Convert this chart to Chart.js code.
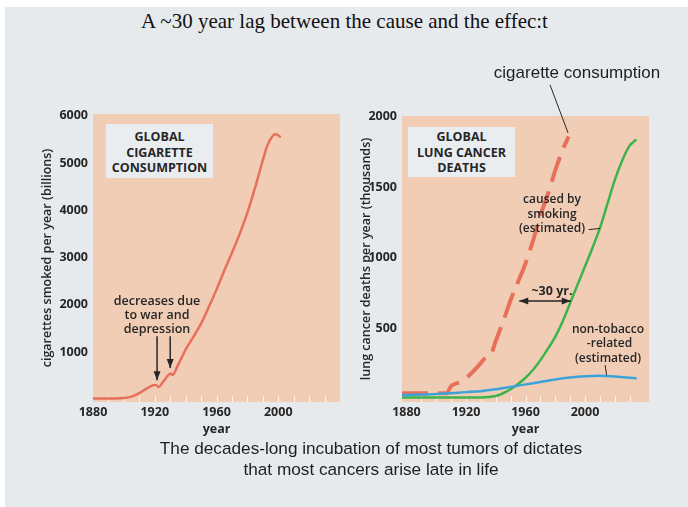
<!DOCTYPE html>
<html>
<head>
<meta charset="utf-8">
<script src="https://cdn.jsdelivr.net/npm/chart.js@4.4.1/dist/chart.umd.min.js"></script>
<style>
  html, body { margin: 0; padding: 0; background: #fff; }
  #page { position: relative; width: 688px; height: 507px; overflow: hidden; }
  #panel { position: absolute; left: 5px; top: 7px; right: 0; bottom: 0; background: #e7eaed; }
  canvas { position: absolute; }
  .t { position: absolute; white-space: nowrap; text-align: center; color: #262626;
       font-family: "Open Sans", sans-serif; font-weight: 600; font-size: 12px; }
  .box { position: absolute; background: #eaedf0; text-align: center; color: #262626;
         font-family: "Open Sans", sans-serif; font-weight: 700; font-size: 12.5px; line-height: 15.5px; }
</style>
</head>
<body>
<div id="page">
  <div id="panel"></div>
  <canvas id="leftChart" width="345" height="400" style="left:0;top:50px"></canvas>
  <canvas id="rightChart" width="343" height="400" style="left:345px;top:50px"></canvas>

  <div class="t" style="left:0;width:689px;top:9px;font-family:'Liberation Serif',serif;font-weight:400;font-size:21px;color:#111;">A ~30 year lag between the cause and the effec:t</div>

  <div class="box" style="left:106px;top:124px;width:107px;height:54px;padding-top:5px;box-sizing:border-box;">GLOBAL<br>CIGARETTE<br>CONSUMPTION</div>
  <div class="box" style="left:408px;top:127px;width:107px;height:50px;padding-top:2px;box-sizing:border-box;">GLOBAL<br>LUNG CANCER<br>DEATHS</div>

  <div class="t" style="left:107px;width:100px;top:294px;line-height:14px;font-size:12.5px;">decreases due<br>to war and<br>depression</div>

  <div class="t" style="left:477px;width:200px;top:63px;font-family:'Liberation Sans',sans-serif;font-weight:400;font-size:17px;color:#1e1e1e;">cigarette consumption</div>
  <div class="t" style="left:502px;width:100px;top:192px;line-height:14.7px;">caused by<br>smoking<br>(estimated)</div>
  <div class="t" style="left:512px;width:80px;top:282px;font-weight:700;font-size:12.5px;">~30 yr.</div>
  <div class="t" style="left:558px;width:100px;top:322px;line-height:14.3px;">non-tobacco<br>&nbsp;-related<br>(estimated)</div>

  <div class="t" style="left:121px;width:500px;top:438px;font-family:'Liberation Sans',sans-serif;font-weight:400;font-size:17.2px;line-height:20.5px;color:#1e1e1e;">The decades-long incubation of most tumors of dictates<br>that most cancers arise late in life</div>
</div>

<script>
// x ticks shared by both panels
const yearTicks = [1880, 1920, 1960, 2000];

// left panel: global cigarette consumption (billions)
const consYears = [1880, 1895, 1900, 1905, 1910, 1915, 1920, 1921.5, 1922.5, 1925, 1929, 1930.5, 1931.5, 1935, 1940, 1945, 1950, 1955, 1960, 1965, 1970, 1975, 1980, 1985, 1990, 1993, 1996, 1998, 2000, 2001];
const consBillions = [15, 15, 25, 55, 130, 230, 300, 290, 255, 350, 520, 545, 515, 720, 1050, 1320, 1600, 1950, 2320, 2720, 3100, 3500, 3950, 4480, 5060, 5380, 5560, 5610, 5590, 5560];
const consTicks = [1000, 2000, 3000, 4000, 5000, 6000];

// right panel: lung cancer deaths (thousands) + scaled consumption
const smokeYears = [1877, 1930, 1940, 1945, 1950, 1955, 1960, 1965, 1970, 1975, 1980, 1985, 1990, 1995, 2000, 2005, 2010, 2015, 2020, 2025, 2030, 2034];
const smokeDeaths = [10, 10, 20, 40, 68, 105, 150, 205, 275, 355, 440, 550, 680, 810, 940, 1070, 1210, 1380, 1550, 1690, 1795, 1835];
const otherYears = [1877, 1900, 1920, 1930, 1940, 1950, 1960, 1970, 1980, 1990, 2000, 2010, 2020, 2030, 2034];
const otherDeaths = [27, 35, 48, 55, 68, 85, 103, 120, 138, 152, 161, 164, 158, 150, 146];
const cigYears = [1877, 1898, 1907, 1910, 1916, 1922, 1928, 1932, 1937, 1940, 1945, 1950, 1955, 1960, 1965, 1970, 1975, 1980, 1985, 1989];
const cigScaled = [40, 40, 40, 90, 120, 165, 230, 280, 320, 410, 550, 700, 830, 960, 1120, 1300, 1450, 1620, 1765, 1860];
const deathTicks = [500, 1000, 1500, 2000];

const plotFill = "#f2cdb6";
const red = "#e8705a";
const green = "#3cb44b";
const blue = "#3ba3d9";
const ink = "#262626";

const pts = (xs, ys) => xs.map((x, i) => ({ x: x, y: ys[i] }));

// plot background, little white decade ticks, arrows and leader lines
const decor = {
  id: "decor",
  beforeDraw(chart) {
    const { ctx, chartArea: a } = chart;
    ctx.save();
    ctx.fillStyle = plotFill;
    ctx.fillRect(a.left, a.top, a.right - a.left, a.bottom - a.top);
    ctx.restore();
  },
  beforeDatasetsDraw(chart) {
    const { ctx, chartArea: a, scales: { x } } = chart;
    ctx.save();
    ctx.strokeStyle = "rgba(255,255,255,0.8)";
    ctx.lineWidth = 1;
    for (let yr = 1890; yr < 2040; yr += 10) {
      const px = Math.round(x.getPixelForValue(yr)) + 0.5;
      ctx.beginPath();
      ctx.moveTo(px, a.bottom);
      ctx.lineTo(px, a.bottom - 6);
      ctx.stroke();
    }
    ctx.restore();
  },
  afterDraw(chart, args, opts) {
    const { ctx, scales: { x, y } } = chart;
    ctx.save();
    ctx.strokeStyle = ink;
    ctx.fillStyle = ink;
    (opts.lines || []).forEach(l => {
      const x1 = x.getPixelForValue(l.from[0]), y1 = y.getPixelForValue(l.from[1]);
      const x2 = x.getPixelForValue(l.to[0]), y2 = y.getPixelForValue(l.to[1]);
      ctx.lineWidth = l.w || 1;
      ctx.beginPath();
      ctx.moveTo(x1, y1);
      ctx.lineTo(x2, y2);
      ctx.stroke();
      const head = (px, py, qx, qy) => {
        const ang = Math.atan2(py - qy, px - qx);
        ctx.beginPath();
        ctx.moveTo(px, py);
        ctx.lineTo(px - 9 * Math.cos(ang) + 3.5 * Math.sin(ang), py - 9 * Math.sin(ang) - 3.5 * Math.cos(ang));
        ctx.lineTo(px - 9 * Math.cos(ang) - 3.5 * Math.sin(ang), py - 9 * Math.sin(ang) + 3.5 * Math.cos(ang));
        ctx.closePath();
        ctx.fill();
      };
      if (l.head === "end" || l.head === "both") head(x2, y2, x1, y1);
      if (l.head === "both") head(x1, y1, x2, y2);
    });
    ctx.restore();
  }
};

const tickFont = { family: "Open Sans", weight: "700", size: 12.5 };
const titleFont = { family: "Open Sans", weight: "600", size: 12.5 };

function xAxis(min, max) {
  return {
    type: "linear", min: min, max: max,
    afterBuildTicks: s => { s.ticks = yearTicks.map(v => ({ value: v })); },
    afterFit: s => { s.height = 48; },
    grid: { display: false, drawTicks: false },
    border: { display: false },
    ticks: { font: tickFont, color: ink, padding: 3, maxRotation: 0, callback: v => String(v) },
    title: { display: true, text: "year", font: tickFont, color: ink, padding: { top: 0, bottom: 13 } }
  };
}

function yAxis(min, max, ticks, width, label, titlePad) {
  return {
    min: min, max: max,
    afterBuildTicks: s => { s.ticks = ticks.map(v => ({ value: v })); },
    afterFit: s => { s.width = width; },
    grid: { display: false, drawTicks: false },
    border: { display: false },
    ticks: { font: tickFont, color: ink, padding: 5, callback: v => String(v) },
    title: { display: true, text: label, font: titleFont, color: ink, padding: { top: titlePad, bottom: 0 } }
  };
}

const common = {
  responsive: false,
  animation: false,
  events: [],
  plugins: { legend: { display: false }, tooltip: { enabled: false } },
  elements: { point: { radius: 0 }, line: { cubicInterpolationMode: "monotone", borderCapStyle: "round" } }
};

new Chart(document.getElementById("leftChart"), {
  type: "line",
  data: {
    datasets: [{
      label: "cigarette consumption",
      data: pts(consYears, consBillions),
      borderColor: red, borderWidth: 2.5, fill: false
    }]
  },
  options: Object.assign({}, common, {
    layout: { padding: { left: 0, right: 5, top: 64, bottom: 0 } },
    scales: {
      x: xAxis(1880, 2040),
      y: yAxis(-60, 6040, consTicks, 93, "cigarettes smoked per year (billions)", 40)
    },
    plugins: Object.assign({}, common.plugins, {
      decor: {
        lines: [
          { from: [1921.5, 1330], to: [1921.5, 400], head: "end", w: 1.5 },
          { from: [1930, 1330], to: [1930, 660], head: "end", w: 1.5 }
        ]
      }
    })
  }),
  plugins: [decor]
});

new Chart(document.getElementById("rightChart"), {
  type: "line",
  data: {
    datasets: [
      {
        label: "non-tobacco-related (estimated)",
        data: pts(otherYears, otherDeaths),
        borderColor: blue, borderWidth: 2.5, fill: false
      },
      {
        label: "caused by smoking (estimated)",
        data: pts(smokeYears, smokeDeaths),
        borderColor: green, borderWidth: 2.5, fill: false
      },
      {
        label: "cigarette consumption",
        data: pts(cigYears, cigScaled),
        borderColor: red, borderWidth: 4, borderDash: [26, 10], borderCapStyle: "butt", fill: false
      }
    ]
  },
  options: Object.assign({}, common, {
    layout: { padding: { left: 0, right: 39, top: 66, bottom: 0 } },
    scales: {
      x: xAxis(1877, 2043),
      y: yAxis(-22, 2005, deathTicks, 57, "lung cancer deaths per year (thousands)", 14)
    },
    plugins: Object.assign({}, common.plugins, {
      decor: {
        lines: [
          { from: [1976.5, 2225], to: [1988.6, 1885], head: "none", w: 1 },
          { from: [1955.8, 694], to: [1990.4, 694], head: "both", w: 1.5 },
          { from: [2002.5, 1200], to: [2010, 1208], head: "none", w: 1 },
          { from: [2013.5, 240], to: [2014.5, 168], head: "none", w: 1 }
        ]
      }
    })
  }),
  plugins: [decor]
});
</script>
</body>
</html>
